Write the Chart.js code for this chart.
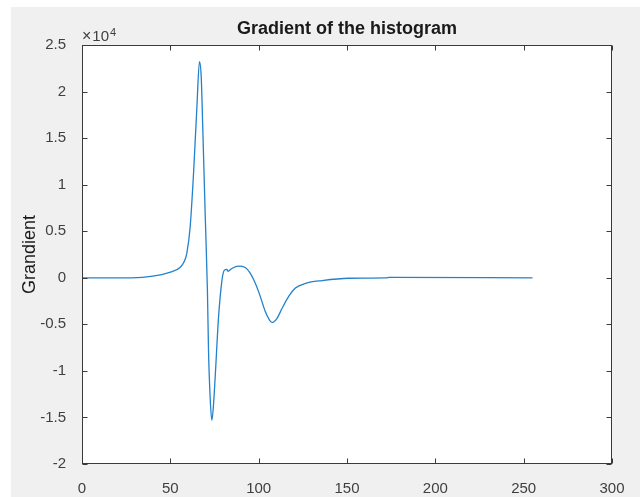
<!DOCTYPE html>
<html>
<head>
<meta charset="utf-8">
<script src="https://cdn.jsdelivr.net/npm/chart.js@4.4.0/dist/chart.umd.min.js"></script>
<style>
html,body{margin:0;padding:0;background:#fff;}
#wrap{position:relative;width:640px;height:497px;overflow:hidden;}
#bg{position:absolute;left:11px;top:7px;right:0;bottom:0;background:#f0f0f0;}
#c{position:absolute;left:0;top:0;}
</style>
</head>
<body>
<div id="wrap"><div id="bg"></div><canvas id="c" width="640" height="497"></canvas></div>
<script>
// gray level (x) vs gradient of histogram (y)
const grayLevel = [0, 28, 34, 40, 45, 50, 55.5, 58, 59.3, 61.2, 63.1, 65, 66.5, 67.5, 68.3, 69.7, 71, 71.6, 72.6, 73.5, 74.3, 75.4, 77.3, 79.2, 80.5, 82, 82.6, 84.8, 88.6, 92.4, 95.2, 98.1, 100.9, 103.7, 106, 107.5, 110.4, 113.2, 117, 120.8, 126.5, 135.9, 151, 172, 174, 255];
const gradient = [0, 0, 40, 180, 350, 600, 1100, 1800, 2600, 5400, 11100, 18200, 23200, 21500, 16500, 7000, -1400, -7700, -13100, -15300, -14000, -10600, -4200, -300, 800, 900, 700, 1000, 1250, 1100, 500, -600, -2000, -3600, -4500, -4800, -4350, -3300, -2000, -1100, -600, -300, -50, -20, 40, 0];
const xTicks = [0, 50, 100, 150, 200, 250, 300];
const yTicks = [-20000, -15000, -10000, -5000, 0, 5000, 10000, 15000, 20000, 25000];
const titleText = "Gradient of the histogram";
const yLabel = "Grandient";

const axisColor = "#3a3a3a";
const FONT = "'Liberation Sans', Arial, Helvetica, sans-serif";

const frame = {
  id: "frame",
  beforeDraw(chart){
    const {ctx, chartArea:a} = chart;
    ctx.save();
    ctx.fillStyle = "#fff";
    ctx.fillRect(a.left, a.top, a.right-a.left, a.bottom-a.top);
    ctx.restore();
  },
  afterDraw(chart){
    const {ctx, chartArea:a, scales} = chart;
    ctx.save();
    ctx.strokeStyle = axisColor;
    ctx.lineWidth = 1;
    const L = Math.round(a.left)+0.5, R = Math.round(a.right)-0.5;
    const T = Math.round(a.top)+0.5, B = Math.round(a.bottom)-0.5;
    ctx.strokeRect(L, T, R-L, B-T);
    // inward tick marks on all four sides
    ctx.beginPath();
    scales.x.ticks.forEach(t=>{
      const px = Math.round(scales.x.getPixelForValue(t.value))+0.5;
      ctx.moveTo(px, B); ctx.lineTo(px, B-5);
      ctx.moveTo(px, T); ctx.lineTo(px, T+5);
    });
    scales.y.ticks.forEach(t=>{
      const py = Math.round(scales.y.getPixelForValue(t.value))+0.5;
      ctx.moveTo(L, py); ctx.lineTo(L+5, py);
      ctx.moveTo(R, py); ctx.lineTo(R-5, py);
    });
    ctx.stroke();
    // title
    ctx.fillStyle = "#1a1a1a";
    ctx.font = "bold 18px " + FONT;
    ctx.textAlign = "center";
    ctx.textBaseline = "middle";
    ctx.fillText(titleText, (a.left+a.right)/2, 29);
    // exponent label
    ctx.fillStyle = "#404040";
    ctx.textAlign = "left";
    ctx.textBaseline = "alphabetic";
    ctx.font = "16px " + FONT;
    ctx.fillText("\u00d7", a.left, 41);
    let w = ctx.measureText("\u00d7").width;
    ctx.font = "15px " + FONT;
    ctx.fillText("10", a.left + w + 1, 41);
    w += ctx.measureText("10").width + 1;
    ctx.font = "11px " + FONT;
    ctx.fillText("4", a.left + w + 1, 36);
    ctx.restore();
  }
};

new Chart(document.getElementById("c"), {
  type: "line",
  data: {
    datasets: [{
      data: grayLevel.map((x,i)=>({x, y: gradient[i]})),
      borderColor: "#2382cb",
      borderWidth: 1.3,
      pointRadius: 0,
      fill: false,
      cubicInterpolationMode: "monotone"
    }]
  },
  options: {
    responsive: false,
    animation: false,
    layout: { padding: { left: 0, right: 28, top: 45, bottom: 0 } },
    plugins: { legend: { display: false }, tooltip: { enabled: false } },
    scales: {
      x: {
        type: "linear", min: 0, max: 300,
        afterBuildTicks: s => { s.ticks = xTicks.map(v=>({value:v})); },
        afterFit: s => { s.height = 33; },
        grid: { display: false }, border: { display: false },
        ticks: { color: "#404040", padding: 8, maxRotation: 0, font: { family: FONT, size: 15 } }
      },
      y: {
        type: "linear", min: -20000, max: 25000,
        afterBuildTicks: s => { s.ticks = yTicks.map(v=>({value:v})); },
        afterFit: s => { s.width = 82; },
        grid: { display: false }, border: { display: false },
        ticks: { color: "#404040", padding: 8, font: { family: FONT, size: 15 },
          callback: v => String(v/10000) },
        title: { display: true, text: yLabel, color: "#1a1a1a", padding: { top: 19, bottom: 0 },
          font: { family: FONT, size: 18 } }
      }
    }
  },
  plugins: [frame]
});
</script>
</body>
</html>
